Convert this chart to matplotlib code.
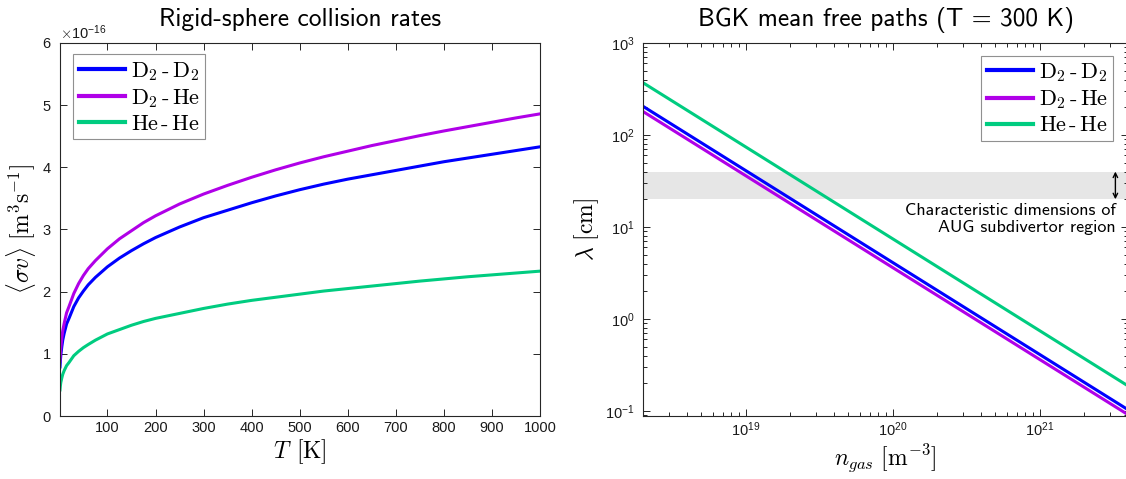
import numpy as np
import matplotlib
matplotlib.use('Agg')
import matplotlib.pyplot as plt
from matplotlib.font_manager import FontProperties
from matplotlib.ticker import ScalarFormatter, NullFormatter, LogLocator

plt.rcParams['font.family'] = ['Liberation Sans', 'DejaVu Sans']
plt.rcParams['mathtext.fontset'] = 'cm'

# rigid-sphere rate coefficients <sigma v>, in units of 1e-16 m^3/s
temp_K = [1.3, 2, 3, 5, 7, 10, 15, 20, 30, 40, 50, 60, 75, 100, 125, 150, 175,
          200, 250, 300, 350, 400, 450, 500, 550, 600, 650, 700, 750, 800,
          850, 900, 950, 1000]
rate_d2_d2 = [0.79, 0.88, 0.98, 1.11, 1.22, 1.33, 1.48, 1.57, 1.76, 1.90, 2.01,
              2.11, 2.23, 2.40, 2.54, 2.66, 2.77, 2.87, 3.04, 3.19, 3.31, 3.43,
              3.54, 3.64, 3.73, 3.81, 3.88, 3.95, 4.02, 4.09, 4.15, 4.21, 4.27,
              4.33]
rate_d2_he = [0.89, 0.99, 1.10, 1.25, 1.37, 1.49, 1.66, 1.76, 1.97, 2.13, 2.26,
              2.37, 2.50, 2.69, 2.85, 2.98, 3.11, 3.22, 3.41, 3.57, 3.71, 3.84,
              3.96, 4.07, 4.17, 4.26, 4.35, 4.43, 4.51, 4.585, 4.655, 4.725,
              4.795, 4.86]
rate_he_he = [0.42, 0.48, 0.54, 0.61, 0.67, 0.73, 0.81, 0.86, 0.97, 1.04, 1.10,
              1.15, 1.22, 1.32, 1.39, 1.46, 1.52, 1.57, 1.65, 1.73, 1.80, 1.86,
              1.91, 1.96, 2.01, 2.05, 2.09, 2.13, 2.17, 2.205, 2.24, 2.27, 2.30,
              2.33]

# BGK mean free paths [cm] at T = 300 K, ends of the density scan [m^-3]
n_gas = [2e18, 4e21]
mfp_d2_d2 = [205, 0.103]
mfp_d2_he = [180, 0.091]
mfp_he_he = [370, 0.187]

# subdivertor size range [cm]
band_cm = [20, 40]

pair_labels = [r'$\mathrm{D_2}\,$-$\,\mathrm{D_2}$',
               r'$\mathrm{D_2}\,$-$\,\mathrm{He}$',
               r'$\mathrm{He}\,$-$\,\mathrm{He}$']
colors = ['#0000ff', '#b000e8', '#00cc80']

axis_col = '#262626'
leg_font = FontProperties(family='cmr10', size=16)


def style_axes(ax):
    for sp in ax.spines.values():
        sp.set_linewidth(0.8)
        sp.set_color(axis_col)
    ax.tick_params(which='both', direction='in', top=True, right=True,
                   colors=axis_col, labelcolor='#1a1a1a', width=0.7)
    ax.tick_params(which='major', length=5, labelsize=10.5)
    ax.tick_params(which='minor', length=3)
    ax.tick_params(axis='y', which='major', pad=6)


def add_legend(ax, loc, anchor):
    leg = ax.legend(loc=loc, bbox_to_anchor=anchor, prop=leg_font,
                    fancybox=False, framealpha=1, edgecolor='#909090',
                    handlelength=2.1, handletextpad=0.25, borderpad=0.25,
                    labelspacing=0.2, borderaxespad=0)
    leg.get_frame().set_linewidth(0.8)
    for ln in leg.get_lines():
        ln.set_linewidth(3)
    return leg


fig = plt.figure(figsize=(11.26, 4.79), dpi=100)

# left: collision rates vs temperature
ax1 = fig.add_axes([60 / 1126, 63 / 479, 480 / 1126, 373 / 479])
for rate, lab, col in zip([rate_d2_d2, rate_d2_he, rate_he_he], pair_labels, colors):
    ax1.plot(temp_K, np.array(rate) * 1e-16, color=col, lw=2.2, label=lab)
ax1.set_xlim(temp_K[0], 1000)
ax1.set_ylim(0, 6e-16)
ax1.set_xticks(np.arange(100, 1001, 100))
ax1.set_yticks(np.arange(0, 7) * 1e-16)
fmt = ScalarFormatter(useMathText=True)
fmt.set_powerlimits((0, 0))
ax1.yaxis.set_major_formatter(fmt)
style_axes(ax1)
ax1.yaxis.get_offset_text().set_fontsize(10.5)
ax1.set_title('Rigid-sphere collision rates', fontfamily='cmss10', fontsize=18.3, pad=12)
ax1.set_xlabel(r'$T\;\,[\mathrm{K}]$', fontsize=17, labelpad=2)
ax1.set_ylabel(r'$\langle\sigma v\rangle\ [\mathrm{m^3 s^{-1}}]$', fontsize=17, labelpad=3)
add_legend(ax1, 'upper left', (0.027, 0.97))

# right: mean free paths vs gas density (right spine sits just past the edge)
ax2 = fig.add_axes([643 / 1126, 63 / 479, 485 / 1126, 373 / 479])
ax2.axhspan(band_cm[0], band_cm[1], color='#e6e6e6', lw=0, zorder=0)
for mfp, lab, col in zip([mfp_d2_d2, mfp_d2_he, mfp_he_he], pair_labels, colors):
    ax2.plot(n_gas, mfp, color=col, lw=2.2, label=lab)
ax2.set_xscale('log')
ax2.set_yscale('log')
ax2.set_xlim(n_gas[0], n_gas[1])
ax2.set_ylim(0.088, 1000)
ax2.xaxis.set_major_locator(LogLocator(base=10, numticks=10))
ax2.xaxis.set_minor_locator(LogLocator(base=10, subs=np.arange(2, 10), numticks=20))
ax2.yaxis.set_minor_locator(LogLocator(base=10, subs=np.arange(2, 10), numticks=20))
ax2.xaxis.set_minor_formatter(NullFormatter())
ax2.yaxis.set_minor_formatter(NullFormatter())
style_axes(ax2)
ax2.set_title('BGK mean free paths (T = 300 K)', fontfamily='cmss10', fontsize=18.3, pad=12)
ax2.set_xlabel(r'$n_{gas}\ [\mathrm{m^{-3}}]$', fontsize=17, labelpad=2)
ax2.set_ylabel(r'$\lambda\ [\mathrm{cm}]$', fontsize=17, labelpad=3)
add_legend(ax2, 'upper right', (0.97, 0.966))

ax2.annotate('', xy=(0.974, band_cm[1]), xytext=(0.974, band_cm[0]),
             xycoords=('axes fraction', 'data'),
             arrowprops=dict(arrowstyle='<->', color='k', lw=1,
                             shrinkA=0, shrinkB=0, mutation_scale=8))
ax2.text(0.975, 18, 'Characteristic dimensions of\nAUG subdivertor region',
         transform=ax2.get_yaxis_transform(), ha='right', va='top',
         fontfamily='cmss10', fontsize=13, linespacing=1.1)

fig.savefig('out.png', dpi=100)
